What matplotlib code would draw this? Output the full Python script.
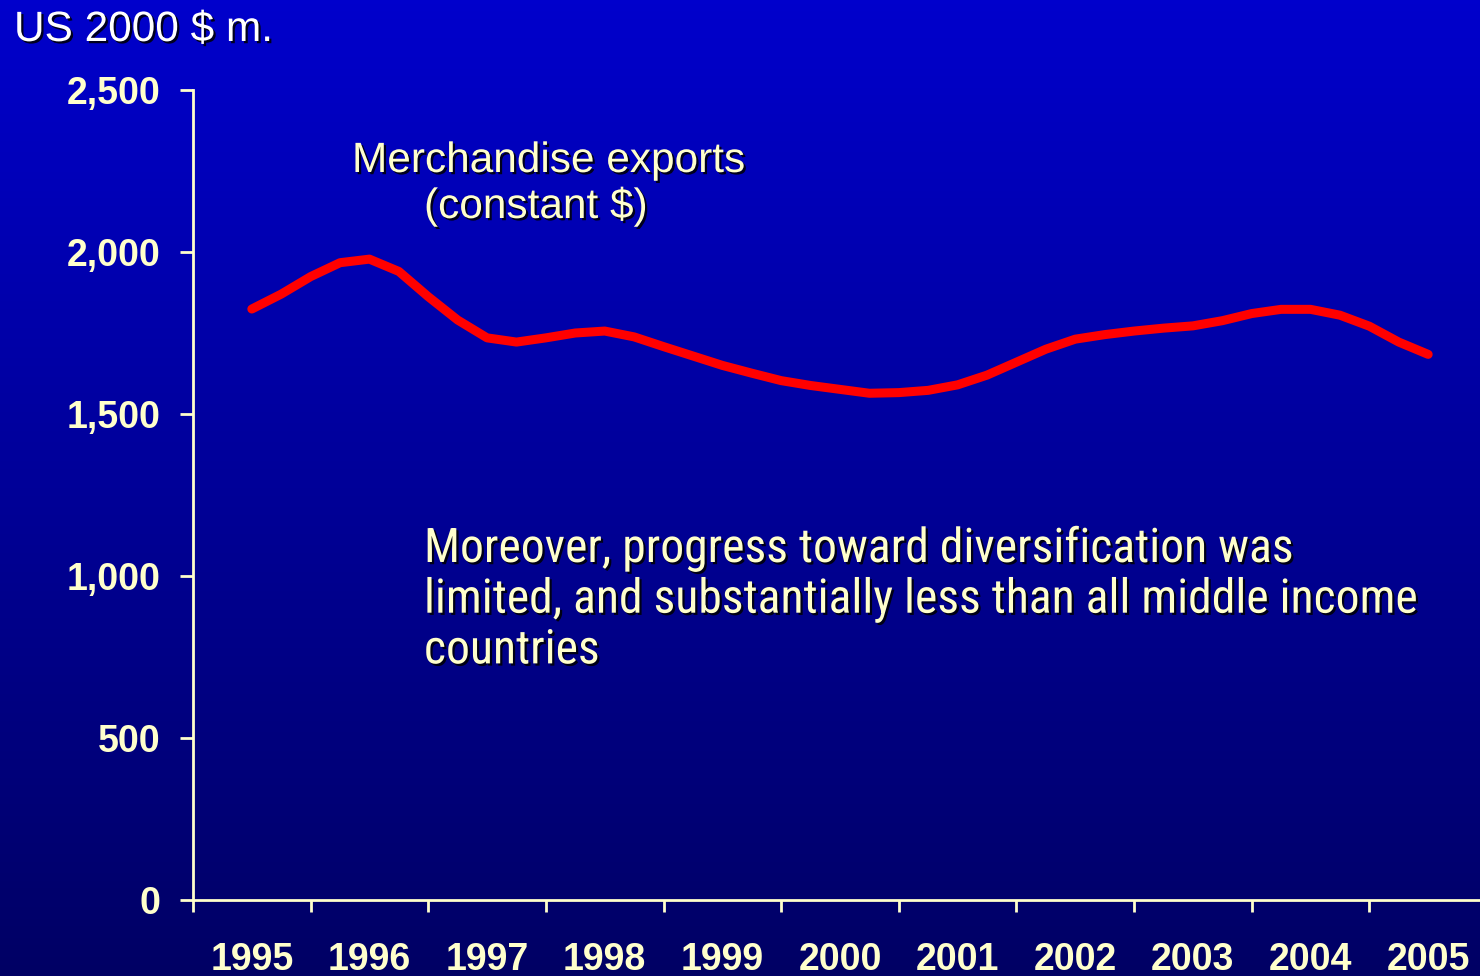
import numpy as np
import matplotlib
matplotlib.use("Agg")
import matplotlib.pyplot as plt
import matplotlib.patheffects as pe
from matplotlib import font_manager as fm
from matplotlib.ticker import FuncFormatter

# ---- data ----
years = [str(y) for y in range(1995, 2006)]
# quarterly readings of the smoothed curve, 1995 .. 2005 (41 points)
quarter_index = list(range(41))
exports = [1824, 1870, 1924, 1967, 1978, 1940, 1862, 1790, 1735, 1722,
           1735, 1750, 1756, 1738, 1708, 1679, 1650, 1626, 1603, 1588,
           1576, 1564, 1566, 1573, 1590, 1620, 1660, 1700, 1731, 1745,
           1756, 1765, 1772, 1788, 1810, 1823, 1823, 1805, 1771, 1722,
           1684]
yticks = [0, 500, 1000, 1500, 2000, 2500]

unit_label = "US 2000 $ m."
series_label_1 = "Merchandise exports"
series_label_2 = "(constant $)"
note_lines = ["Moreover, progress toward diversification was",
              "limited, and substantially less than all middle income",
              "countries"]

# ---- style ----
W, H = 1480, 976
PALE = "#FFFFCC"
RED = "#FF0000"
plt.rcParams["font.family"] = ["Liberation Sans", "DejaVu Sans"]

# look for a narrow / condensed sans face for the note text
pref = ["Liberation Sans Narrow", "Roboto Condensed", "Open Sans Condensed",
        "Noto Sans Condensed", "Noto Sans", "Open Sans", "Roboto", "Inter",
        "Lato", "DejaVu Sans"]
cands = []
for f in fm.fontManager.ttflist:
    cond = (str(f.stretch) in ("condensed", "semi-condensed", "extra-condensed",
                               "ultra-condensed")
            or "Narrow" in f.name or "Condensed" in f.name)
    if cond and f.style == "normal" and f.weight in (400, "normal", "regular"):
        rank = pref.index(f.name) if f.name in pref else len(pref)
        cands.append((rank, f.fname))
if cands:
    cands.sort()
    narrow_fp = fm.FontProperties(fname=cands[0][1])
else:
    narrow_fp = fm.FontProperties(family="Liberation Sans")

fig = plt.figure(figsize=(W / 100, H / 100), dpi=100)

# background gradient
bg = fig.add_axes([0, 0, 1, 1], zorder=0)
t = np.linspace(0, 1, 256)[:, None, None]
top = np.array([0, 0, 204]) / 255.0
bot = np.array([0, 0, 100]) / 255.0
img = top + (bot - top) * t
bg.imshow(img, aspect="auto", extent=[0, 1, 0, 1], origin="upper")
bg.set_axis_off()

def fx(px):
    return px / W

def fy(py):
    return 1 - py / H

ax = fig.add_axes([fx(193), fy(900), 1294 / W, 810 / H], zorder=1)
ax.patch.set_alpha(0)

x = np.array(quarter_index) / 4.0
ax.plot(x, exports, color=RED, lw=6.5, solid_capstyle="round",
        solid_joinstyle="round", zorder=3)

ax.set_xlim(-0.5, 10.5)
ax.set_ylim(0, 2500)

for s in ["top", "right"]:
    ax.spines[s].set_visible(False)
for s in ["left", "bottom"]:
    ax.spines[s].set_color(PALE)
    ax.spines[s].set_linewidth(2)

# x: boundary ticks (major) and centred labels (minor)
ax.set_xticks(np.arange(-0.5, 11, 1.0))
ax.set_xticklabels([])
ax.set_xticks(range(len(years)), minor=True)
ax.set_xticklabels(years, minor=True)
ax.tick_params(axis="x", which="major", direction="out", length=8.5,
               width=2, color=PALE)
ax.tick_params(axis="x", which="minor", length=0, pad=30,
               labelsize=27, labelcolor=PALE)
for lab in ax.get_xticklabels(minor=True):
    lab.set_fontweight("bold")

ax.set_yticks(yticks)
ax.yaxis.set_major_formatter(FuncFormatter(lambda v, p: f"{int(v):,}"))
ax.tick_params(axis="y", direction="out", length=9.5, width=2, color=PALE,
               pad=14, labelsize=27, labelcolor=PALE)
for lab in ax.get_yticklabels():
    lab.set_fontweight("bold")

shadow = [pe.withSimplePatchShadow(offset=(1.6, -1.6), shadow_rgbFace="black",
                                   alpha=0.85)]

fig.text(fx(14), fy(41), unit_label, ha="left", va="baseline", fontsize=30.5,
         color="white", path_effects=shadow, zorder=5)

fig.text(fx(352), fy(172), series_label_1, ha="left", va="baseline",
         fontsize=30.5, color=PALE, path_effects=shadow, zorder=5)
fig.text(fx(424), fy(218), series_label_2, ha="left", va="baseline",
         fontsize=30.5, color=PALE, path_effects=shadow, zorder=5)

note_texts = []
for i, line in enumerate(note_lines):
    tt = fig.text(fx(424), fy(562 + 50.7 * i), line, ha="left", va="baseline",
                  fontproperties=narrow_fp, color=PALE, path_effects=shadow,
                  zorder=5)
    tt.set_fontsize(33)
    note_texts.append(tt)

# fit the longest note line to the width it has in the reference (~994 px)
fig.canvas.draw()
r = fig.canvas.get_renderer()
wmax = max(tt.get_window_extent(r).width for tt in note_texts)
size = min(36, 33 * 994 / wmax)
for tt in note_texts:
    tt.set_fontsize(size)

fig.savefig("out.png", dpi=100)
